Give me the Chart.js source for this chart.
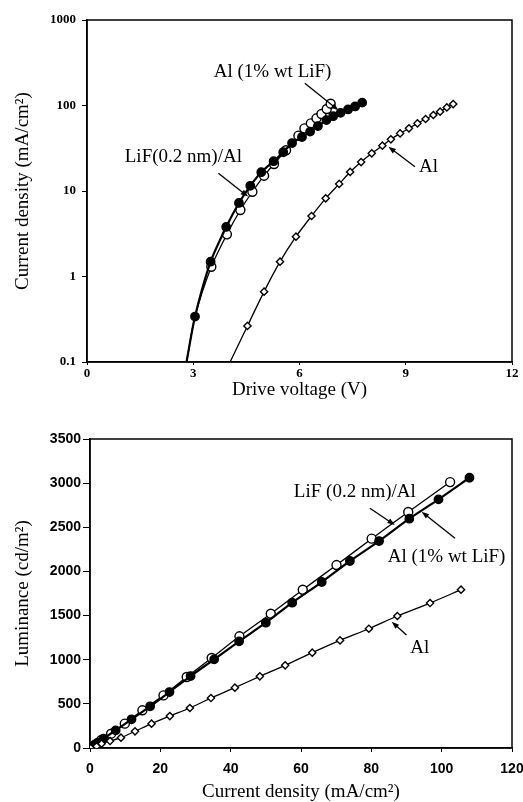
<!DOCTYPE html>
<html lang="en">
<head>
  <meta charset="UTF-8">
  <title>Current density and luminance</title>
  <script src="https://cdn.jsdelivr.net/npm/chart.js"></script>
  <style>
    body { margin: 0; background: #fff; }
    .wrap { position: absolute; left: 0; width: 523px; }
    #topWrap { top: 0; height: 400px; }
    #bottomWrap { top: 400px; height: 402px; }
  </style>
</head>
<body>
  <div class="wrap" id="topWrap"><canvas id="jvChart"></canvas></div>
  <div class="wrap" id="bottomWrap"><canvas id="ljChart"></canvas></div>

  <script>
    // --- top panel: J-V (log y) ---
    const lifV = [2.81, 3.05, 3.49, 3.93, 4.29, 4.61, 4.92, 5.27, 5.54, 5.79, 6.07, 6.30, 6.52, 6.76, 6.95, 7.16, 7.37, 7.57, 7.77];
    const lifJ = [0.1, 0.34, 1.49, 3.8, 7.25, 11.5, 16.6, 22.3, 28.4, 36.4, 42.8, 49.5, 57.5, 67.5, 75, 82, 90, 97.5, 108];

    const alLifV = [2.81, 3.05, 3.51, 3.95, 4.33, 4.67, 5.00, 5.28, 5.62, 5.97, 6.14, 6.32, 6.48, 6.62, 6.77, 6.88];
    const alLifJ = [0.1, 0.34, 1.30, 3.11, 6.0, 9.8, 15.1, 20.7, 30, 44.4, 54, 61.8, 70.8, 79.5, 91, 105];

    const alV = [4.04, 4.53, 5.00, 5.45, 5.90, 6.34, 6.74, 7.12, 7.43, 7.74, 8.04, 8.34, 8.58, 8.84, 9.09, 9.33, 9.56, 9.78, 9.97, 10.16, 10.34];
    const alJ = [0.1, 0.264, 0.665, 1.49, 2.92, 5.1, 8.2, 12.1, 16.7, 21.8, 27.6, 33.9, 40.2, 47.2, 54.1, 61.8, 69.5, 77.4, 84.7, 95, 104];

    const voltTicks = [0, 3, 6, 9, 12];
    const densLogTicks = [0.1, 1, 10, 100, 1000];

    // --- bottom panel: L-J ---
    const openJ = [0.2, 1.5, 3.2, 6.0, 9.9, 14.9, 20.9, 27.5, 34.6, 42.5, 51.4, 60.5, 70.1, 80.1, 90.5, 102.4];
    const openL = [10, 40, 90, 162, 276, 427, 596, 804, 1019, 1265, 1521, 1793, 2072, 2371, 2673, 3012];

    const filledJ = [0.1, 1.0, 2.2, 3.8, 7.3, 11.8, 17.1, 22.6, 28.6, 35.3, 42.4, 50.0, 57.5, 65.9, 73.9, 82.2, 90.8, 99.1, 107.9];
    const filledL = [5, 25, 60, 106, 200, 325, 472, 634, 815, 1004, 1208, 1419, 1646, 1880, 2118, 2344, 2597, 2816, 3061];

    const diamJ = [0.2, 1.9, 3.3, 5.7, 8.8, 12.8, 17.5, 22.7, 28.4, 34.4, 41.2, 48.3, 55.5, 63.2, 71.1, 79.3, 87.4, 96.7, 105.5];
    const diamL = [0, 19, 49, 79, 117, 189, 276, 362, 453, 566, 683, 812, 936, 1080, 1219, 1351, 1495, 1642, 1793];

    const lumTicks = [0, 500, 1000, 1500, 2000, 2500, 3000, 3500];
    const densTicks = [0, 20, 40, 60, 80, 100, 120];

    const toPts = (xs, ys) => xs.map((x, i) => ({ x: x, y: ys[i] }));

    const serif = 'Liberation Serif, Times New Roman, serif';
    const sans = 'Liberation Sans, Arial, sans-serif';

    // frame round the plot area
    const framePlugin = {
      id: 'frame',
      beforeDatasetsDraw(chart) {
        const a = chart.chartArea;
        const ctx = chart.ctx;
        ctx.save();
        ctx.strokeStyle = '#000';
        ctx.lineWidth = 1.5;
        ctx.strokeRect(a.left, a.top, a.right - a.left, a.bottom - a.top);
        ctx.restore();
      }
    };

    // labels with arrows, placed in data coordinates
    const notesPlugin = {
      id: 'notes',
      afterDatasetsDraw(chart, args, opts) {
        const ctx = chart.ctx;
        const sx = chart.scales.x, sy = chart.scales.y;
        ctx.save();
        ctx.fillStyle = '#000';
        ctx.strokeStyle = '#000';
        ctx.lineWidth = 1.3;
        ctx.font = opts.font;
        ctx.textAlign = 'center';
        ctx.textBaseline = 'middle';
        (opts.items || []).forEach(n => {
          ctx.fillText(n.text, sx.getPixelForValue(n.at[0]), sy.getPixelForValue(n.at[1]));
          const x0 = sx.getPixelForValue(n.from[0]), y0 = sy.getPixelForValue(n.from[1]);
          const x1 = sx.getPixelForValue(n.to[0]), y1 = sy.getPixelForValue(n.to[1]);
          const ang = Math.atan2(y1 - y0, x1 - x0);
          const head = 8, spread = 0.35;
          ctx.beginPath();
          ctx.moveTo(x0, y0);
          ctx.lineTo(x1 - Math.cos(ang) * head * 0.8, y1 - Math.sin(ang) * head * 0.8);
          ctx.stroke();
          ctx.beginPath();
          ctx.moveTo(x1, y1);
          ctx.lineTo(x1 - head * Math.cos(ang - spread), y1 - head * Math.sin(ang - spread));
          ctx.lineTo(x1 - head * Math.cos(ang + spread), y1 - head * Math.sin(ang + spread));
          ctx.closePath();
          ctx.fill();
        });
        ctx.restore();
      }
    };

    function series(label, pts, style, hideFirst) {
      const r = style === 'diamond' ? 3.6 : (style === 'filled' ? 4.2 : 4.5);
      return {
        label: label,
        data: pts,
        borderColor: '#000',
        borderWidth: style === 'filled' ? 2.2 : 1.3,
        pointStyle: style === 'diamond' ? 'rectRot' : 'circle',
        pointRadius: pts.map((_, i) => i < hideFirst ? 0 : r),
        pointBackgroundColor: style === 'filled' ? '#000' : '#fff',
        pointBorderColor: '#000',
        pointBorderWidth: 1.4,
        tension: 0.25,
        fill: false
      };
    }

    function axisTitle(text, pad) {
      return { display: true, text: text, color: '#000', font: { family: serif, size: 19, lineHeight: 1 }, padding: pad };
    }

    // top chart
    new Chart(document.getElementById('jvChart'), {
      type: 'line',
      data: {
        datasets: [
          series('Al', toPts(alV, alJ), 'diamond', 1),
          series('LiF(0.2 nm)/Al', toPts(lifV, lifJ), 'filled', 1),
          series('Al (1% wt LiF)', toPts(alLifV, alLifJ), 'open', 2)
        ]
      },
      options: {
        responsive: true,
        maintainAspectRatio: false,
        animation: false,
        devicePixelRatio: 1,
        layout: { padding: { top: 20, right: 11, left: 0, bottom: 0 } },
        plugins: {
          legend: { display: false },
          tooltip: { enabled: false },
          notes: {
            font: '19px ' + serif,
            items: [
              { text: 'Al (1% wt LiF)', at: [5.24, 248], from: [6.15, 182], to: [7.1, 88] },
              { text: 'LiF(0.2 nm)/Al', at: [2.72, 25.2], from: [3.71, 16.1], to: [4.55, 8.6] },
              { text: 'Al', at: [9.64, 19.2], from: [9.26, 19.2], to: [8.51, 33] }
            ]
          }
        },
        scales: {
          x: {
            type: 'linear', min: 0, max: 12,
            afterBuildTicks: s => { s.ticks = voltTicks.map(v => ({ value: v })); },
            afterFit: s => { s.height = 38; s.paddingRight = 0; s.paddingLeft = 0; },
            ticks: { color: '#000', padding: 1, font: { family: serif, size: 13, weight: 'bold' } },
            grid: { drawOnChartArea: false, drawTicks: true, tickLength: 3, color: '#000' },
            border: { color: '#000', width: 1.5 },
            title: axisTitle('Drive voltage (V)', { top: 0, bottom: 0 })
          },
          y: {
            type: 'logarithmic', min: 0.1, max: 1000,
            afterBuildTicks: s => { s.ticks = densLogTicks.map(v => ({ value: v })); },
            afterFit: s => { s.width = 87; },
            ticks: { color: '#000', padding: 6, font: { family: serif, size: 13, weight: 'bold' }, callback: v => String(v) },
            grid: { drawOnChartArea: false, drawTicks: true, tickLength: 5, color: '#000' },
            border: { color: '#000', width: 1.5 },
            title: axisTitle('Current density (mA/cm\u00B2)', { top: 14, bottom: 0 })
          }
        }
      },
      plugins: [framePlugin, notesPlugin]
    });

    // bottom chart
    new Chart(document.getElementById('ljChart'), {
      type: 'line',
      data: {
        datasets: [
          series('Al', toPts(diamJ, diamL), 'diamond', 0),
          series('Al (1% wt LiF)', toPts(filledJ, filledL), 'filled', 0),
          series('LiF (0.2 nm)/Al', toPts(openJ, openL), 'open', 0)
        ]
      },
      options: {
        responsive: true,
        maintainAspectRatio: false,
        animation: false,
        devicePixelRatio: 1,
        layout: { padding: { top: 39, right: 11, left: 0, bottom: 0 } },
        datasets: { line: { tension: 0 } },
        plugins: {
          legend: { display: false },
          tooltip: { enabled: false },
          notes: {
            font: '19px ' + serif,
            items: [
              { text: 'LiF (0.2 nm)/Al', at: [75.3, 2903], from: [79.6, 2715], to: [86.7, 2526] },
              { text: 'Al (1% wt LiF)', at: [101.4, 2167], from: [103.8, 2375], to: [94.3, 2677] },
              { text: 'Al', at: [93.8, 1129], from: [90.0, 1280], to: [85.8, 1431] }
            ]
          }
        },
        scales: {
          x: {
            type: 'linear', min: 0, max: 120,
            afterBuildTicks: s => { s.ticks = densTicks.map(v => ({ value: v })); },
            afterFit: s => { s.height = 54; s.paddingRight = 0; s.paddingLeft = 0; },
            ticks: { color: '#000', padding: 9, font: { family: sans, size: 14, weight: 'bold' }, callback: v => String(v) },
            grid: { drawOnChartArea: false, drawTicks: true, tickLength: 4, color: '#000' },
            border: { color: '#000', width: 1.5 },
            title: axisTitle('Current density (mA/cm\u00B2)', { top: 0, bottom: 0 })
          },
          y: {
            type: 'linear', min: 0, max: 3500,
            afterBuildTicks: s => { s.ticks = lumTicks.map(v => ({ value: v })); },
            afterFit: s => { s.width = 90; },
            ticks: { color: '#000', padding: 2, font: { family: sans, size: 14, weight: 'bold' }, callback: v => String(v) },
            grid: { drawOnChartArea: false, drawTicks: true, tickLength: 7, color: '#000' },
            border: { color: '#000', width: 1.5 },
            title: axisTitle('Luminance (cd/m\u00B2)', { top: 14, bottom: 0 })
          }
        }
      },
      plugins: [framePlugin, notesPlugin]
    });
  </script>
</body>
</html>
